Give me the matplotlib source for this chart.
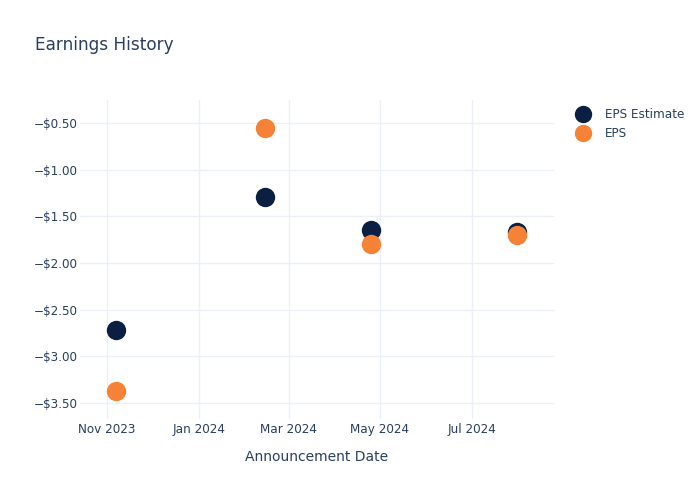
import matplotlib
matplotlib.use("Agg")
import matplotlib.pyplot as plt
import matplotlib.dates as mdates
from matplotlib.ticker import FuncFormatter, MultipleLocator
from matplotlib.lines import Line2D
import numpy as np

dates = np.array(["2023-11-07", "2024-02-14", "2024-04-25", "2024-07-31"], dtype="datetime64[D]")
eps_estimate = [-2.72, -1.29, -1.65, -1.67]
eps_actual = [-3.37, -0.55, -1.80, -1.70]
series_names = ["EPS Estimate", "EPS"]

text_color = "#2a3f5f"
grid_color = "#ebf0f8"
c_est = "#0b1f42"
c_eps = "#f58236"

fig = plt.figure(figsize=(7, 5), dpi=100)
ax = fig.add_axes([80/700, (500-419)/500, (554-80)/700, (419-100)/500])

ax.scatter(dates, eps_estimate, s=195, color=c_est, zorder=3, linewidths=0)
ax.scatter(dates, eps_actual, s=195, color=c_eps, zorder=4, linewidths=0)

ax.set_xlim(np.datetime64("2023-10-14"), np.datetime64("2024-08-25"))
ax.set_ylim(-3.671, -0.2536)

ax.xaxis.set_major_locator(mdates.MonthLocator(bymonth=[1, 3, 5, 7, 9, 11]))
ax.xaxis.set_major_formatter(mdates.DateFormatter("%b %Y"))
ax.yaxis.set_major_locator(MultipleLocator(0.5))

def fmt(v, pos):
    s = f"${abs(v):.2f}"
    return ("\u2212" + s) if v < 0 else s
ax.yaxis.set_major_formatter(FuncFormatter(fmt))

ax.grid(True, color=grid_color, linewidth=1)
ax.set_axisbelow(True)
for sp in ax.spines.values():
    sp.set_visible(False)
ax.tick_params(length=0, labelsize=8.64, colors=text_color)
ax.tick_params(axis="x", pad=3)
ax.tick_params(axis="y", pad=1.5)

ax.set_xlabel("Announcement Date", fontsize=10, color=text_color, labelpad=10)

fig.text(35/700, 1 - 45/500, "Earnings History", fontsize=12.2, color=text_color, va="center", ha="left")

handles = [Line2D([0], [0], marker="o", linestyle="", markersize=11.5, color=c_est),
           Line2D([0], [0], marker="o", linestyle="", markersize=11.5, color=c_eps)]
leg = fig.legend(handles, series_names, loc="upper left", bbox_to_anchor=(575/700, 1 - 108/500),
                 frameon=False, fontsize=8.64, handletextpad=1.2, labelspacing=0.5,
                 handlelength=1.3, borderpad=0, borderaxespad=0)
for t in leg.get_texts():
    t.set_color(text_color)

fig.savefig("out.png", dpi=100)
